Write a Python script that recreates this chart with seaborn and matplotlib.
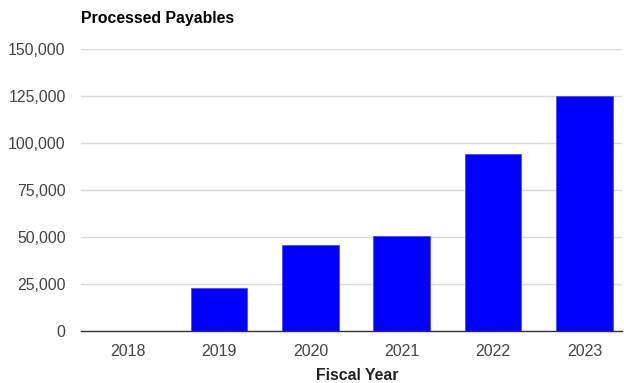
import matplotlib
matplotlib.use("Agg")
import matplotlib.pyplot as plt
import matplotlib.ticker as mticker
import seaborn as sns
import pandas as pd

years = ["2018", "2019", "2020", "2021", "2022", "2023"]
payables = [150, 23000, 45600, 50500, 94300, 124900]
y_ticks = [0, 25000, 50000, 75000, 100000, 125000, 150000]

sns.set_theme(style="white")
plt.rcParams["font.family"] = ["Liberation Sans", "DejaVu Sans"]

df = pd.DataFrame({"Fiscal Year": years, "Processed Payables": payables})

fig = plt.figure(figsize=(6.24, 3.83), dpi=100)
ax = fig.add_axes([81 / 624, 1 - 331 / 383, 541 / 624, 282 / 383])

sns.barplot(data=df, x="Fiscal Year", y="Processed Payables", color="#0000ff",
            saturation=1, width=0.62, edgecolor="#4d4dff", linewidth=0.6, ax=ax,
            zorder=3)

ax.set_ylim(0, 150000)
ax.set_xlim(-0.51, 5.41)
ax.set_yticks(y_ticks)
ax.yaxis.set_major_formatter(mticker.FuncFormatter(lambda v, p: f"{int(v):,}"))
ax.grid(axis="y", color="#d9d9d9", linewidth=1, zorder=0)
ax.grid(axis="x", visible=False)
for side in ["top", "right", "left"]:
    ax.spines[side].set_visible(False)
ax.spines["bottom"].set_color("#333333")
ax.spines["bottom"].set_linewidth(1)
ax.spines["bottom"].set_zorder(4)
ax.tick_params(axis="both", length=0, labelsize=11.4, labelcolor="#444444")
ax.tick_params(axis="y", pad=11)
ax.tick_params(axis="x", pad=9)

ax.set_ylabel("")
ax.set_xlabel("")
fig.text(357 / 624, 1 - 376 / 383, "Fiscal Year", fontsize=11.4, fontweight="bold",
         color="#222222", ha="center", va="center")
fig.text(81 / 624, 1 - 18 / 383, "Processed Payables", fontsize=11.4, fontweight="bold",
         color="#000000", ha="left", va="center")

fig.savefig("out.png", dpi=100, facecolor="white")
